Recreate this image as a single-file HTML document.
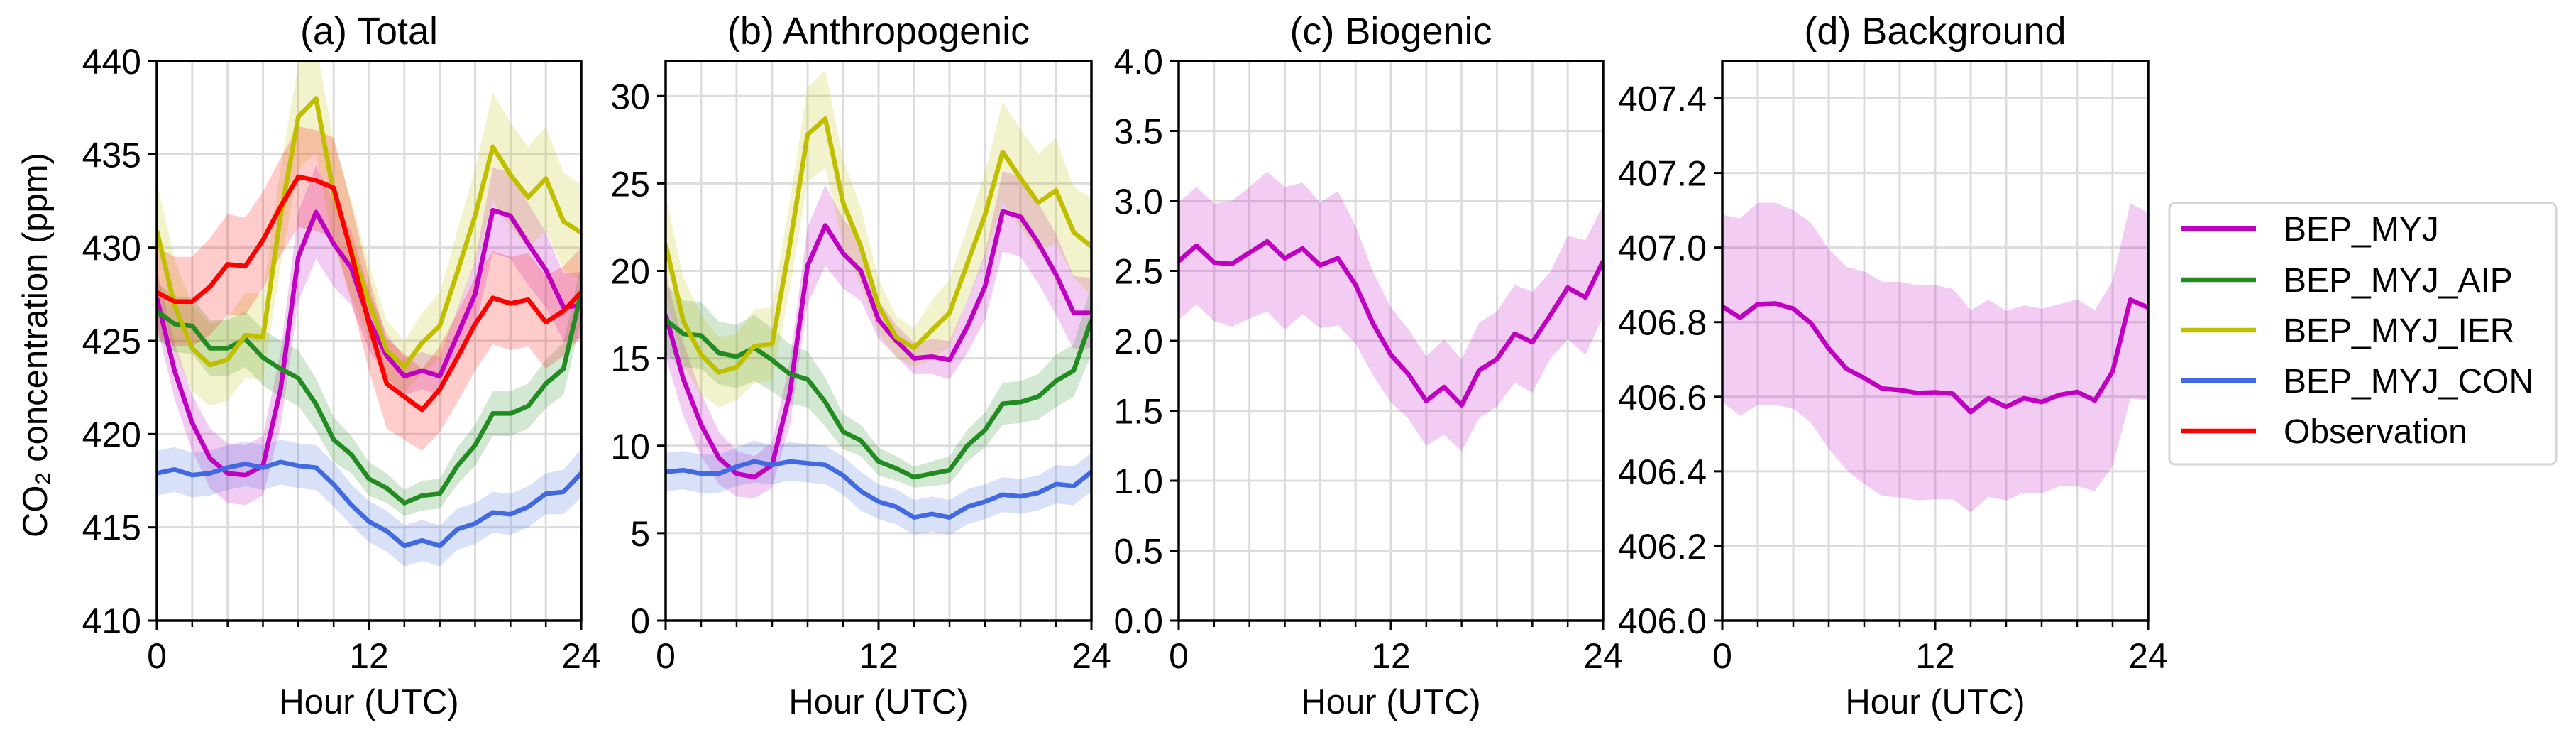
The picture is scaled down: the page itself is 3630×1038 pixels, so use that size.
<!DOCTYPE html>
<html><head><meta charset="utf-8">
<style>
html,body{margin:0;padding:0;background:#fff;}
svg{display:block;font-family:"Liberation Sans",sans-serif;}
</style></head>
<body>
<svg id="chart" width="3630" height="1038" viewBox="0 0 3630 1038" xmlns="http://www.w3.org/2000/svg"></svg>
<script>
const hours = [0,1,2,3,4,5,6,7,8,9,10,11,12,13,14,15,16,17,18,19,20,21,22,23,24];
// Panel (a) Total
const totMYJ = [427.3,423.4,420.6,418.7,417.9,417.8,418.3,422.4,429.5,431.9,430.2,428.9,426.1,424.2,423.1,423.4,423.1,425.3,427.5,432.0,431.7,430.2,428.8,426.8,426.9];
const totMYJSpread = [1.5,1.5,1.5,1.6,1.6,1.6,1.6,2.0,2.4,2.5,2.3,2.0,1.6,1.2,1.0,1.0,1.0,1.4,1.8,2.3,2.3,2.2,2.0,1.8,1.8];
const totAIP = [426.6,425.9,425.8,424.6,424.6,425.1,424.1,423.5,423.0,421.6,419.7,418.9,417.6,417.1,416.3,416.7,416.8,418.3,419.4,421.1,421.1,421.5,422.7,423.5,427.6];
const totAIPSpread = [1.5,1.5,1.5,1.5,1.5,1.5,1.5,1.5,1.5,1.4,1.2,1.0,0.9,0.8,0.7,0.8,0.8,1.0,1.1,1.2,1.2,1.2,1.3,1.4,1.5];
const totIER = [430.9,426.9,424.6,423.7,424.0,425.3,425.2,431.7,437.0,438.0,432.9,429.9,427.1,424.5,423.6,424.9,425.8,428.7,431.7,435.4,433.9,432.7,433.7,431.4,430.8];
const totIERSpread = [2.6,2.5,2.3,2.2,2.2,2.3,2.3,2.6,2.8,2.9,2.8,2.6,2.0,1.6,1.4,1.6,1.8,2.2,2.5,2.9,2.8,2.7,2.8,2.6,2.6];
const totCON = [417.9,418.1,417.8,417.9,418.2,418.4,418.2,418.5,418.3,418.2,417.3,416.2,415.3,414.8,414.0,414.3,414.0,414.9,415.2,415.8,415.7,416.1,416.8,416.9,417.9];
const totCONSpread = [1.2,1.2,1.2,1.2,1.2,1.2,1.2,1.2,1.2,1.2,1.2,1.1,1.1,1.1,1.1,1.1,1.1,1.1,1.1,1.1,1.1,1.1,1.1,1.2,1.3];
const totObs = [427.6,427.1,427.1,427.9,429.1,429.0,430.4,432.2,433.8,433.6,433.2,429.7,425.9,422.7,422.0,421.3,422.4,424.1,425.9,427.3,427.0,427.2,426.0,426.6,427.6];
const totObsSpread = [2.4,2.4,2.4,2.6,2.7,2.6,2.6,2.6,2.7,2.7,2.7,2.6,2.5,2.4,2.3,2.2,2.3,2.4,2.5,2.5,2.5,2.5,2.5,2.4,2.4];
// Panel (b) Anthropogenic
const antMYJ = [17.5,13.8,11.2,9.3,8.4,8.2,8.9,13.0,20.3,22.6,21.0,20.0,17.2,16.0,15.0,15.1,14.9,16.8,19.1,23.4,23.1,21.6,19.8,17.6,17.6];
const antMYJSpread = [2.4,2.1,1.8,1.5,1.3,1.2,1.3,1.8,2.2,2.3,2.0,1.7,1.1,0.9,0.9,1.0,1.1,1.5,1.9,2.3,2.3,2.3,2.3,2.1,2.0];
const antAIP = [17.2,16.4,16.3,15.3,15.1,15.6,14.9,14.1,13.8,12.5,10.8,10.3,9.1,8.7,8.2,8.4,8.6,10.0,10.9,12.4,12.5,12.8,13.7,14.3,17.2];
const antAIPSpread = [2.0,1.9,1.9,1.8,1.8,1.9,1.8,1.7,1.6,1.4,1.0,0.9,0.8,0.7,0.6,0.7,0.8,0.9,1.0,1.2,1.2,1.3,1.5,1.5,2.0];
const antIER = [21.5,17.1,15.2,14.2,14.5,15.7,15.8,21.5,27.8,28.7,23.9,21.4,18.0,16.2,15.6,16.6,17.6,20.4,23.2,26.8,25.3,23.9,24.6,22.2,21.4];
const antIERSpread = [2.8,2.5,2.3,2.0,1.9,2.1,2.1,2.5,2.7,2.8,2.5,2.2,1.5,1.2,1.1,1.7,1.9,2.1,2.4,2.9,2.8,2.8,3.0,2.6,2.8];
const antCON = [8.5,8.6,8.4,8.4,8.8,9.1,8.9,9.1,9.0,8.9,8.3,7.4,6.8,6.5,5.9,6.1,5.9,6.5,6.8,7.2,7.1,7.3,7.8,7.7,8.5];
const antCONSpread = [1.1,1.1,1.1,1.1,1.1,1.2,1.1,1.1,1.1,1.1,1.1,1.1,1.0,1.0,1.0,1.0,1.0,1.0,1.0,1.0,1.0,1.0,1.1,1.1,1.1];
// Panel (c) Biogenic
const bioMYJ = [2.57,2.68,2.56,2.55,2.63,2.71,2.59,2.66,2.54,2.59,2.40,2.12,1.90,1.76,1.57,1.67,1.54,1.79,1.87,2.05,1.99,2.18,2.38,2.31,2.57];
const bioMYJSpread = [0.42,0.42,0.42,0.45,0.47,0.50,0.51,0.47,0.45,0.48,0.42,0.37,0.34,0.32,0.32,0.34,0.33,0.34,0.34,0.35,0.36,0.31,0.37,0.41,0.40];
// Panel (d) Background
const bgMYJ = [406.842,406.812,406.848,406.850,406.836,406.797,406.729,406.675,406.650,406.622,406.618,406.610,406.612,406.608,406.559,406.596,406.573,406.596,406.586,406.605,406.613,406.590,406.668,406.860,406.839];
const bgUpper = [407.088,407.078,407.12,407.12,407.10,407.066,406.996,406.948,406.936,406.908,406.908,406.899,406.899,406.889,406.832,406.860,406.830,406.845,406.836,406.848,406.861,406.832,406.911,407.119,407.093];
const bgLower = [406.586,406.549,406.578,406.578,406.568,406.53,406.46,406.404,406.366,406.334,406.33,406.322,406.325,406.325,406.29,406.332,406.322,406.343,406.34,406.36,406.36,406.347,406.414,406.595,406.59];
const xTickLabels = ["0","12","24"];
const ticksA = [410,415,420,425,430,435,440];
const ticksB = [0,5,10,15,20,25,30];
const ticksC = [0,0.5,1,1.5,2,2.5,3,3.5,4];
const ticksD = [406.0,406.2,406.4,406.6,406.8,407.0,407.2,407.4];
const legendNames = ["BEP_MYJ","BEP_MYJ_AIP","BEP_MYJ_IER","BEP_MYJ_CON","Observation"];

const C = {m:"#c000c0", g:"#228b22", y:"#bfbf00", b:"#4169e1", r:"#ff0000"};
const NS = "http://www.w3.org/2000/svg";
const svg = document.getElementById('chart');
function mk(tag, attrs, parent){
  const e = document.createElementNS(NS, tag);
  for (const k in attrs) e.setAttribute(k, attrs[k]);
  (parent||svg).appendChild(e);
  return e;
}
const TOP = 86, BOT = 874;

function panel(key, x0, x1, ymin, ymax, ticks, fmt, title, series, showYLabel){
  const g = mk('g', {});
  
  
  const xs = h => x0 + (h / 24) * (x1 - x0);
  const ys = v => BOT - (v - ymin) / (ymax - ymin) * (BOT - TOP);
  const clip = mk('clipPath', {id: 'clip-' + key}, g);
  mk('rect', {x: x0, y: TOP, width: x1 - x0, height: BOT - TOP}, clip);
  for (let h = 0; h <= 24; h += 2) {
    const l = mk('line', {x1: xs(h), x2: xs(h), y1: TOP, y2: BOT, stroke: '#dcdcdc', 'stroke-width': 3}, g);
    
    
  }
  ticks.forEach(t => {
    const l = mk('line', {x1: x0, x2: x1, y1: ys(t), y2: ys(t), stroke: '#dcdcdc', 'stroke-width': 3}, g);
    
    
  });
  const plot = mk('g', {'clip-path': 'url(#clip-' + key + ')'}, g);
  series.forEach(s => {
    let up = s.upper, lo = s.lower;
    if (!up) { up = s.vals.map((v, i) => v + s.spread[i]); lo = s.vals.map((v, i) => v - s.spread[i]); }
    let d = 'M' + hours.map((h, i) => xs(h).toFixed(1) + ',' + ys(up[i]).toFixed(1)).join('L');
    for (let i = hours.length - 1; i >= 0; i--) d += 'L' + xs(hours[i]).toFixed(1) + ',' + ys(lo[i]).toFixed(1);
    const band = mk('path', {d: d + 'Z', fill: s.color, 'fill-opacity': 0.2, stroke: 'none'}, plot);
    
    
  });
  series.forEach(s => {
    const pts = hours.map((h, i) => xs(h).toFixed(1) + ',' + ys(s.vals[i]).toFixed(1)).join(' ');
    const pl = mk('polyline', {points: pts, fill: 'none', stroke: s.color, 'stroke-width': 6.5, 'stroke-linejoin': 'round'}, plot);
    
    
  });
  const fr = mk('rect', {x: x0, y: TOP, width: x1 - x0, height: BOT - TOP, fill: 'none', stroke: '#000', 'stroke-width': 3.5}, g);
  
  
  for (let h = 0; h <= 24; h += 2) {
    const major = h % 12 === 0;
    mk('line', {x1: xs(h), x2: xs(h), y1: BOT, y2: BOT + (major ? 14 : 9), stroke: '#000', 'stroke-width': major ? 3 : 2.5}, g);
  }
  xTickLabels.forEach(t => {
    const tx = mk('text', {x: xs(+t), y: 941, 'font-size': 50, 'text-anchor': 'middle', fill: '#000'}, g);
    tx.textContent = t;
    
    
  });
  ticks.forEach(t => {
    mk('line', {x1: x0 - 12, x2: x0, y1: ys(t), y2: ys(t), stroke: '#000', 'stroke-width': 3}, g);
    const tx = mk('text', {x: x0 - 22, y: ys(t) + 18, 'font-size': 50, 'text-anchor': 'end', fill: '#000'}, g);
    tx.textContent = fmt(t);
    
    
  });
  const xl = mk('text', {x: (x0 + x1) / 2, y: 1005, 'font-size': 49, 'text-anchor': 'middle', fill: '#000'}, g);
  xl.textContent = 'Hour (UTC)';
  
  
  const tt = mk('text', {x: (x0 + x1) / 2, y: 62, 'font-size': 54, 'text-anchor': 'middle', fill: '#000'}, g);
  tt.textContent = title;
  
  
  if (showYLabel) {
    const yl = mk('text', {x: 0, y: 0, 'font-size': 49, 'text-anchor': 'middle', fill: '#000', transform: 'translate(66,486) rotate(-90)'}, g);
    yl.textContent = 'CO\u2082 concentration (ppm)';
    
    
  }
}

panel('total', 221, 819, 410, 440, ticksA, t => String(t), '(a) Total', [
  {name:'bep-myj', color:C.m, vals:totMYJ, spread:totMYJSpread},
  {name:'bep-myj-aip', color:C.g, vals:totAIP, spread:totAIPSpread},
  {name:'bep-myj-ier', color:C.y, vals:totIER, spread:totIERSpread},
  {name:'bep-myj-con', color:C.b, vals:totCON, spread:totCONSpread},
  {name:'observation', color:C.r, vals:totObs, spread:totObsSpread}
], true);
panel('anthropogenic', 938, 1538, 0, 32, ticksB, t => String(t), '(b) Anthropogenic', [
  {name:'bep-myj', color:C.m, vals:antMYJ, spread:antMYJSpread},
  {name:'bep-myj-aip', color:C.g, vals:antAIP, spread:antAIPSpread},
  {name:'bep-myj-ier', color:C.y, vals:antIER, spread:antIERSpread},
  {name:'bep-myj-con', color:C.b, vals:antCON, spread:antCONSpread}
], false);
panel('biogenic', 1661, 2259, 0, 4, ticksC, t => t.toFixed(1), '(c) Biogenic', [
  {name:'bep-myj', color:C.m, vals:bioMYJ, spread:bioMYJSpread}
], false);
panel('background', 2427, 3027, 406, 407.5, ticksD, t => t.toFixed(1), '(d) Background', [
  {name:'bep-myj', color:C.m, vals:bgMYJ, upper:bgUpper, lower:bgLower}
], false);

const lg = mk('g', {});


const lbox = mk('rect', {x: 3057, y: 286, width: 545, height: 368, rx: 8, fill: '#fff', stroke: '#d5d5d5', 'stroke-width': 3}, lg);


const lcolors = [C.m, C.g, C.y, C.b, C.r];
const lys = [322, 394, 465, 536, 607];
legendNames.forEach((n, i) => {
  const e = mk('g', {}, lg);
  
  
  mk('line', {x1: 3074, x2: 3179, y1: lys[i], y2: lys[i], stroke: lcolors[i], 'stroke-width': 6.5}, e);
  const t = mk('text', {x: 3218, y: lys[i] + 17, 'font-size': 48, fill: '#000'}, e);
  t.textContent = n;
});
</script>
</body></html>
